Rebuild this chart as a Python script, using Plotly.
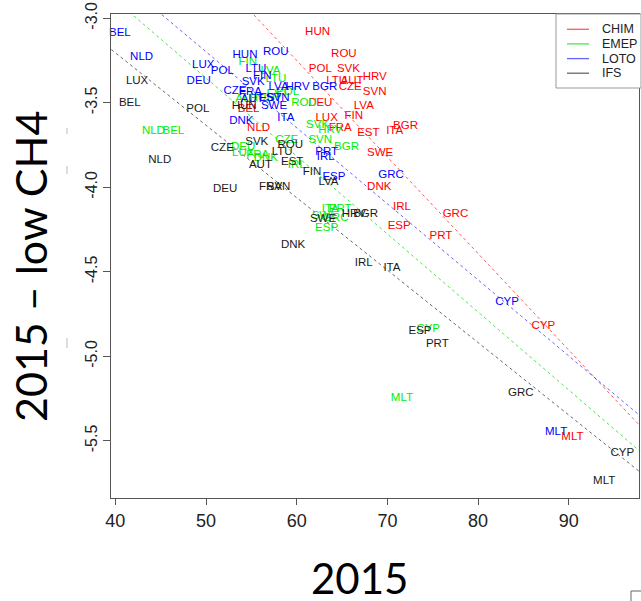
import plotly.graph_objects as go

# ---------------- data ----------------
chim_labels = ["HUN","ROU","POL","SVK","LTU","AUT","HRV","CZE","SVN","DEU","LVA","LUX","FIN","FRA",
               "EST","ITA","BGR","SWE","DNK","GRC","IRL","ESP","PRT","CYP","MLT","NLD","BEL"]
chim_x = [62.3,65.2,62.6,65.7,64.4,66.1,68.6,65.9,68.6,62.6,67.4,63.3,66.3,64.8,
          67.9,70.8,72.0,69.2,69.1,77.5,71.6,71.3,75.9,87.2,90.4,55.8,54.7]
chim_y = [-3.08,-3.21,-3.30,-3.30,-3.37,-3.37,-3.35,-3.41,-3.44,-3.50,-3.52,-3.59,-3.58,-3.65,
          -3.68,-3.67,-3.64,-3.80,-4.00,-4.16,-4.12,-4.23,-4.29,-4.82,-5.48,-3.65,-3.54]

emep_labels = ["NLD","BEL","FIN","LVA","LTU","EST","HUN","ROU","POL","AUT","SVK","HRV","CZE","SVN",
               "BGR","DEU","LUX","DNK","FRA","IRL","ITA","PRT","GRC","SWE","ESP","CYP","MLT"]
emep_x = [44.2,46.4,54.6,57.1,57.7,57.9,56.2,60.8,59.0,54.5,62.3,63.7,58.9,62.6,
          65.5,54.1,54.1,56.6,55.7,60.0,63.7,64.8,64.3,63.1,63.3,74.5,71.6]
emep_y = [-3.67,-3.67,-3.26,-3.31,-3.36,-3.45,-3.47,-3.50,-3.44,-3.48,-3.63,-3.66,-3.72,-3.72,
          -3.76,-3.76,-3.80,-3.83,-3.81,-3.87,-4.13,-4.13,-4.18,-4.17,-4.24,-4.84,-5.25]

loto_labels = ["BEL","NLD","LUX","POL","DEU","HUN","ROU","LTU","FIN","SVK","CZE","FRA","LVA","HRV",
               "BGR","AUT","EST","SVN","SWE","ITA","DNK","PRT","IRL","ESP","GRC","CYP","MLT"]
loto_x = [40.5,42.9,49.7,51.8,49.2,54.3,57.7,55.5,56.2,55.2,53.2,54.9,58.0,60.1,
          63.1,55.1,57.1,57.9,57.5,58.8,53.9,63.3,63.2,64.1,70.4,83.2,88.6]
loto_y = [-3.09,-3.23,-3.28,-3.31,-3.37,-3.22,-3.20,-3.30,-3.34,-3.38,-3.43,-3.44,-3.41,-3.41,
          -3.41,-3.48,-3.47,-3.47,-3.52,-3.59,-3.61,-3.79,-3.82,-3.94,-3.93,-4.68,-5.45]

ifs_labels = ["LUX","BEL","NLD","POL","HUN","CZE","SVK","DEU","AUT","ROU","LTU","EST","FRA","SVN",
              "FIN","LVA","SWE","HRV","BGR","DNK","IRL","ITA","ESP","PRT","GRC","CYP","MLT"]
ifs_x = [42.4,41.6,44.9,49.1,54.2,51.8,55.6,52.1,56.0,59.3,58.4,59.5,57.1,58.0,
         61.7,63.5,62.9,66.3,67.6,59.6,67.4,70.5,73.6,75.5,84.7,95.9,93.9]
ifs_y = [-3.37,-3.50,-3.84,-3.54,-3.52,-3.77,-3.73,-4.01,-3.87,-3.75,-3.79,-3.85,-4.00,-4.00,
         -3.91,-3.97,-4.19,-4.16,-4.16,-4.34,-4.45,-4.48,-4.85,-4.93,-5.22,-5.57,-5.74]

series_names = ["CHIM", "EMEP", "LOTO", "IFS"]
fit_intercept = [0.176, -1.046, -0.948, -1.490]
fit_slope = [-0.0571, -0.04615, -0.0450, -0.04286]

x_tickvals = [40, 50, 60, 70, 80, 90]
x_ticktext = ["40", "50", "60", "70", "80", "90"]
y_tickvals = [-3.0, -3.5, -4.0, -4.5, -5.0, -5.5]
y_ticktext = ["-3.0", "-3.5", "-4.0", "-4.5", "-5.0", "-5.5"]

x_title = "2015"
y_title = "2015 \u2013 low CH4"

# ---------------- style ----------------
text_colors = ["#FF0000", "#00EE00", "#0000FF", "#1a1a1a"]
line_colors = ["rgba(255,0,0,0.65)", "rgba(0,220,0,0.7)", "rgba(0,0,255,0.6)", "rgba(40,40,40,0.7)"]
LBL_FONT = "Liberation Sans, Arial, sans-serif"
TITLE_FONT = "Lato, Liberation Sans, sans-serif"

X_RANGE = [39.526, 97.74]
Y_RANGE = [-5.838, -2.975]

fig = go.Figure()

# regression lines
for name, a, b, col in zip(series_names, fit_intercept, fit_slope, line_colors):
    xs = [X_RANGE[0] - 1, X_RANGE[1] + 1]
    ys = [a + b * v for v in xs]
    fig.add_trace(go.Scatter(x=xs, y=ys, mode="lines", name=name,
                             line=dict(color=col, width=1, dash="3px,3px"),
                             hoverinfo="skip", showlegend=False))

# text labels
groups = [(chim_labels, chim_x, chim_y), (emep_labels, emep_x, emep_y),
          (loto_labels, loto_x, loto_y), (ifs_labels, ifs_x, ifs_y)]
for (labs, xs, ys), name, col in zip(groups, series_names, text_colors):
    fig.add_trace(go.Scatter(x=xs, y=ys, text=labs, mode="text", name=name,
                             textposition="middle center",
                             textfont=dict(family=LBL_FONT, size=11.5, color=col),
                             hoverinfo="skip", showlegend=False, cliponaxis=False))

W, H = 641, 601
L, R, T, B = 111, 2, 14, 103
pw, ph = W - L - R, H - T - B

def px(xp):
    return (xp - L) / pw

def py(yp):
    return (H - B - yp) / ph

shapes = []
annotations = []

# legend box (drawn manually to match R legend)
shapes.append(dict(type="rect", xref="paper", yref="paper", x0=px(556), x1=px(641), y0=py(88), y1=py(14),
                   line=dict(color="#999999", width=1), fillcolor="white", layer="above"))
legend_rows = [29.3, 43.9, 58.6, 73.2]
for name, col, ry in zip(series_names, line_colors, legend_rows):
    shapes.append(dict(type="line", xref="paper", yref="paper", x0=px(567), x1=px(589), y0=py(ry), y1=py(ry),
                       line=dict(color=col, width=1.3), layer="above"))
    annotations.append(dict(xref="paper", yref="paper", x=px(600), y=py(ry), text=name, showarrow=False,
                            xanchor="left", yanchor="middle",
                            font=dict(family=LBL_FONT, size=12.5, color="#222222")))

# faint marks at left
for y0, y1 in [(128, 134), (166, 174), (338, 348)]:
    shapes.append(dict(type="line", xref="paper", yref="paper", x0=px(67), x1=px(67), y0=py(y0), y1=py(y1),
                       line=dict(color="#bbbbbb", width=1)))
# small box corner bottom-right
shapes.append(dict(type="line", xref="paper", yref="paper", x0=px(631), x1=px(641), y0=py(591), y1=py(591),
                   line=dict(color="#666666", width=1)))
shapes.append(dict(type="line", xref="paper", yref="paper", x0=px(631), x1=px(631), y0=py(591), y1=py(601),
                   line=dict(color="#666666", width=1)))

# axis titles
annotations.append(dict(xref="paper", yref="paper", x=px(359), y=py(578), text=x_title, showarrow=False,
                        xanchor="center", yanchor="middle",
                        font=dict(family=TITLE_FONT, size=42, color="black")))
annotations.append(dict(xref="paper", yref="paper", x=px(30), y=py(267), text=y_title, showarrow=False,
                        xanchor="center", yanchor="middle", textangle=-90,
                        font=dict(family=TITLE_FONT, size=43, color="black")))

fig.update_layout(
    width=W, height=H,
    margin=dict(l=L, r=R, t=T, b=B, pad=0),
    paper_bgcolor="white", plot_bgcolor="white",
    showlegend=False,
    shapes=shapes, annotations=annotations,
    xaxis=dict(range=X_RANGE, tickvals=x_tickvals, ticktext=x_ticktext, showgrid=False, zeroline=False,
               showline=True, linecolor="#555555", linewidth=1, mirror=True,
               ticks="outside", ticklen=6, tickcolor="#555555",
               tickfont=dict(family=LBL_FONT, size=18, color="#222222")),
    yaxis=dict(range=Y_RANGE, tickvals=y_tickvals, ticktext=y_ticktext, showgrid=False, zeroline=False,
               showline=True, linecolor="#555555", linewidth=1, mirror=True,
               ticks="outside", ticklen=7, tickcolor="#555555", tickangle=-90,
               tickfont=dict(family=LBL_FONT, size=16, color="#222222")),
)

fig.write_html("out.html", config={"displayModeBar": False},
               post_script="document.body.style.margin='0px';document.body.style.overflow='hidden';")
